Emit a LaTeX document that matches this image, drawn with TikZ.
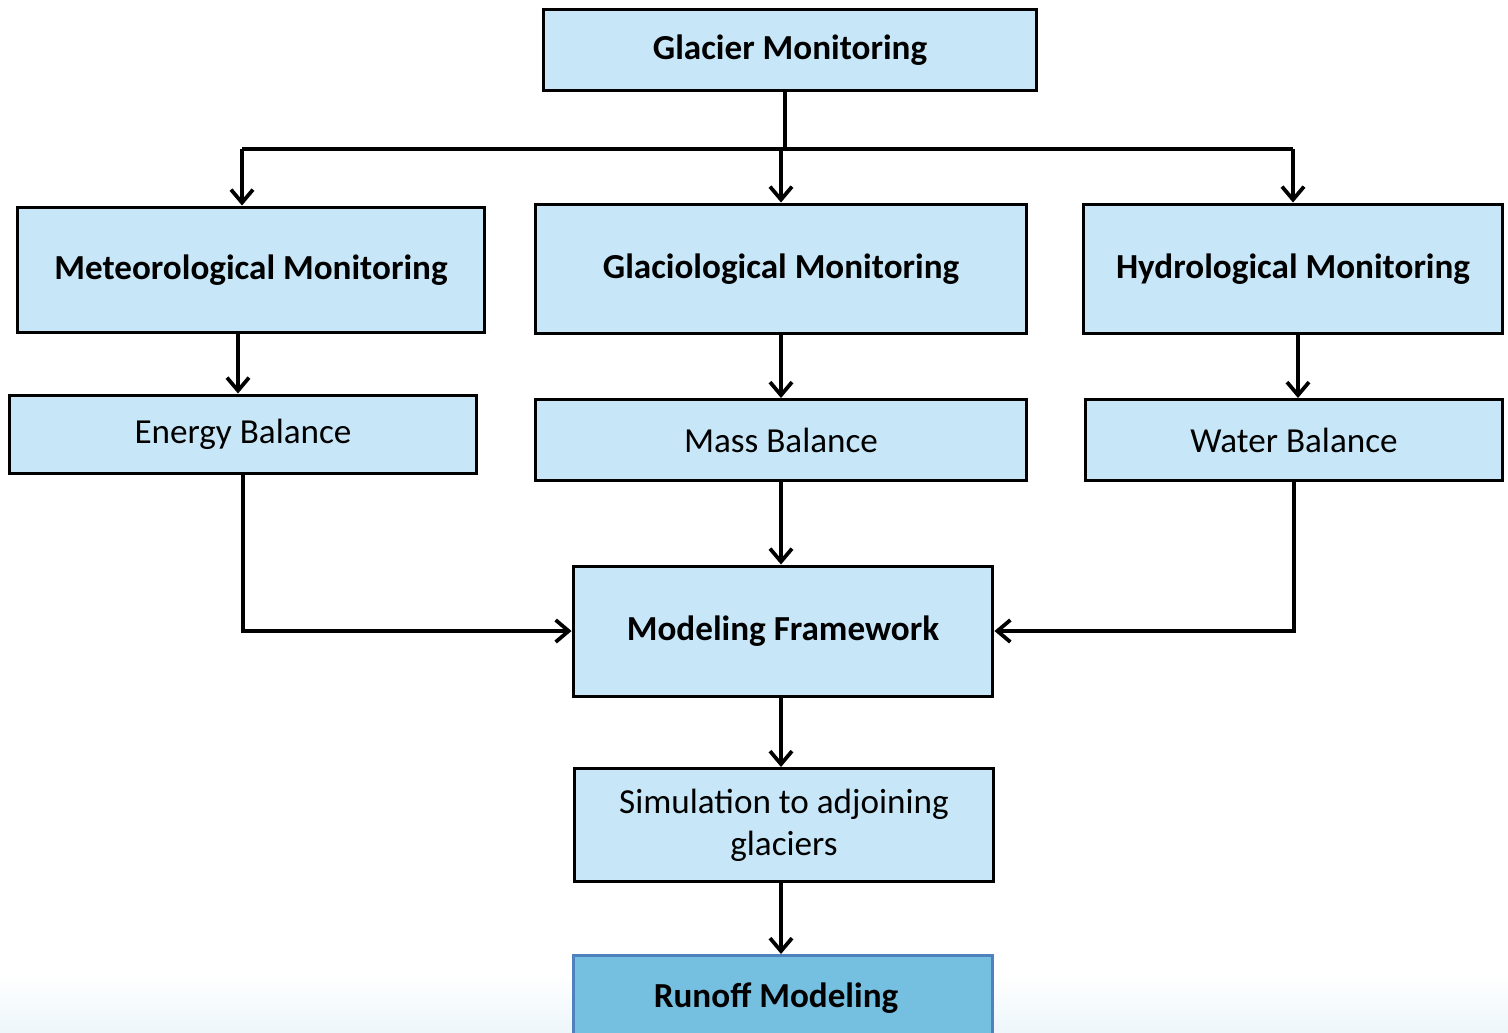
\documentclass[tikz,border=0pt]{standalone}
\usepackage{fontspec}
\setmainfont{Carlito}
\usetikzlibrary{arrows.meta}

\begin{document}
\begin{tikzpicture}[x=0.02cm, y=-0.02cm,
    box/.style={draw=black, fill=boxblue, line width=0.06cm, inner sep=0pt,
      font=\fontsize{20}{24}\selectfont, align=center},
    headbox/.style={box, font=\bfseries\fontsize{20}{24}\selectfont},
    runoffbox/.style={headbox, draw=runoffedge, fill=runofffill},
    arr/.style={line width=0.075cm, -{Straight Barb[length=0.26cm, width=0.44cm, line width=0.075cm]}},
    link/.style={line width=0.075cm}]
  \definecolor{boxblue}{HTML}{C7E7F8}
  \definecolor{runofffill}{HTML}{75BFE0}
  \definecolor{runoffedge}{HTML}{4F81BD}
  \definecolor{fadeblue}{HTML}{EDF6FA}
  \clip (0,0) rectangle (1508,1032);
  \useasboundingbox (0,0) rectangle (1508,1032);
  % faint shade along the bottom edge
  \shade[top color=white, bottom color=fadeblue, draw=none] (0,975) rectangle (1508,1032);

  % top level
  \node[headbox, minimum width=9.86cm, minimum height=1.64cm] (glacier) at (790,50) {Glacier Monitoring};

  % monitoring branches
  \node[headbox, minimum width=9.36cm, minimum height=2.52cm] (met) at (251,270) {Meteorological Monitoring};
  \node[headbox, minimum width=9.84cm, minimum height=2.6cm] (glac) at (781,269) {Glaciological Monitoring};
  \node[headbox, minimum width=8.4cm, minimum height=2.6cm] (hyd) at (1293,269) {Hydrological Monitoring};

  % balances
  \node[box, minimum width=9.36cm, minimum height=1.56cm] (energy) at (243,434) {Energy Balance};
  \node[box, minimum width=9.84cm, minimum height=1.62cm] (mass) at (781,440) {Mass Balance};
  \node[box, minimum width=8.34cm, minimum height=1.62cm] (water) at (1294,440) {Water Balance};

  % modeling chain
  \node[headbox, minimum width=8.4cm, minimum height=2.6cm] (model) at (783,631) {Modeling Framework};
  \node[box, minimum width=8.4cm, minimum height=2.26cm] (sim) at (784,825) {Simulation to adjoining\\glaciers};
  \node[runoffbox, minimum width=8.4cm, minimum height=2.1cm] (runoff) at (783,1008) {};
  \node[font=\bfseries\fontsize{20}{24}\selectfont] (runofftext) at (776,998) {Runoff Modeling};

  % connectors
  \coordinate (split) at (785,149);
  \draw[link] (glacier.south -| split) -- (split);
  \draw[link] ([xshift=-0.18cm]met.north |- split) -- (hyd.north |- split);
  \draw[arr] ([xshift=-0.18cm]met.north |- split) -- ([xshift=-0.18cm]met.north);
  \draw[arr] (split -| glac.north) -- (glac.north);
  \draw[arr] (hyd.north |- split) -- (hyd.north);

  \draw[arr] ([xshift=-0.1cm]met.south -| energy.north) -- ([xshift=-0.1cm]energy.north);
  \draw[arr] (glac.south) -- (mass.north);
  \draw[arr] ([xshift=0.08cm]water.north |- hyd.south) -- ([xshift=0.08cm]water.north);

  \draw[arr] (mass.south) -- (model.north -| mass.south);
  \draw[arr] (energy.south) |- (model.west);
  \draw[arr] (water.south) |- (model.east);

  \draw[arr] (model.south -| mass.south) -- (sim.north -| mass.south);
  \draw[arr] (sim.south -| mass.south) -- (runoff.north -| mass.south);
\end{tikzpicture}
\end{document}
